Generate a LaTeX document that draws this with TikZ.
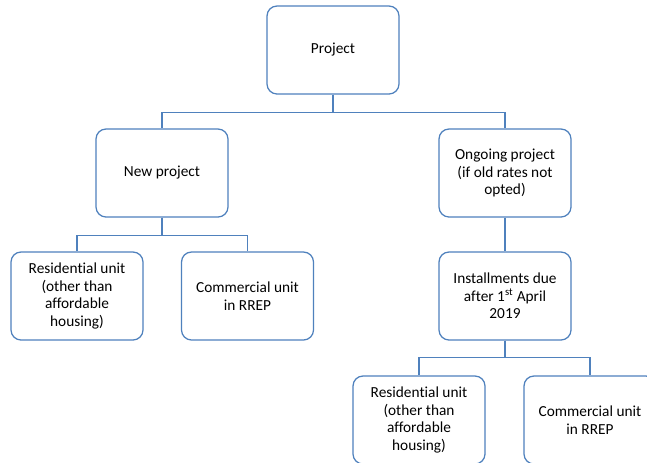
\documentclass[tikz,border=0pt]{standalone}
\usepackage{fontspec}
\setmainfont[Ligatures={NoCommon}]{Carlito}
\definecolor{boxline}{HTML}{4F81BD}
\begin{document}
\begin{tikzpicture}[x=0.75pt,y=-0.75pt,
  box/.style={draw=boxline,line width=0.95pt,rounded corners=7.5pt,fill=white,
    minimum width=99pt,minimum height=66pt,align=center,
    font=\fontsize{11.5pt}{13.2pt}\selectfont,inner sep=2pt},
  link/.style={draw=boxline,line width=0.95pt}]
  \useasboundingbox (0,0) rectangle (647,462);
  \clip (0,0) rectangle (647,462);
  \fill[white] (0,0) rectangle (647,462);

  % tree of boxes
  \node[box] (proj) at (333,50) {Project};
  \node[box] (newp) at (162,173) {New project};
  \node[box] (ong)  at (505,173) {Ongoing project\\(if old rates not\\opted)};
  \node[box] (res1) at (77,296)  {Residential unit\\(other than\\affordable\\housing)};
  \node[box] (com1) at (247.5,296) {Commercial unit\\in RREP};
  \node[box] (inst) at (505,296) {Installments due\\after 1\textsuperscript{st} April\\2019};
  \node[box] (res2) at (419,420) {Residential unit\\(other than\\affordable\\housing)};
  \node[box] (com2) at (590,420) {Commercial unit\\in RREP};

  % elbow connectors
  \draw[link] (proj.south) -- ++(0,18) -| (newp.north);
  \draw[link] (proj.south) -- ++(0,18) -| (ong.north);
  \draw[link] (newp.south) -- ++(0,18) -| (res1.north);
  \draw[link] (newp.south) -- ++(0,18) -| (com1.north);
  \draw[link] (ong.south) -- (inst.north);
  \draw[link] (inst.south) -- ++(0,16.5) -| (res2.north);
  \draw[link] (inst.south) -- ++(0,16.5) -| (com2.north);
\end{tikzpicture}
\end{document}
